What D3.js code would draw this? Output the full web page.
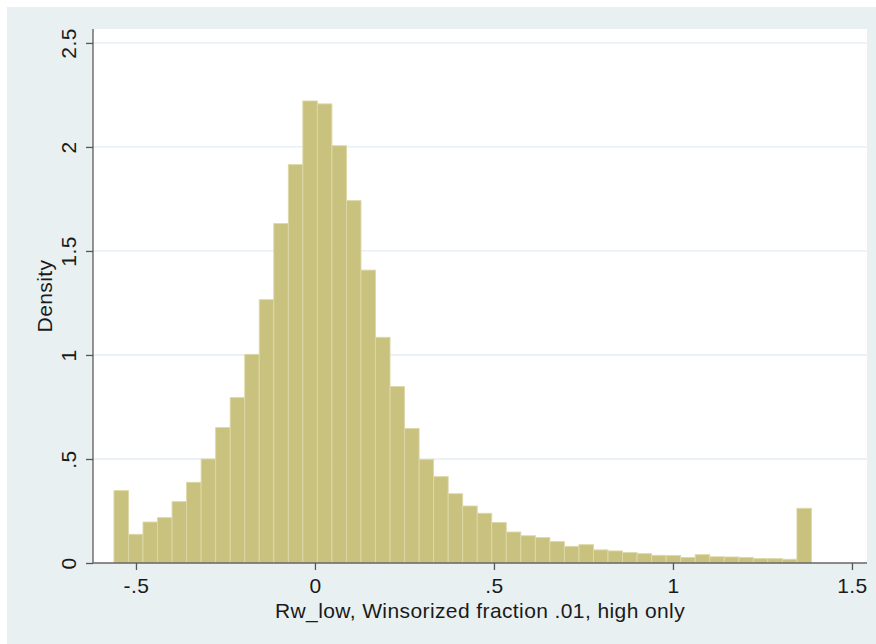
<!DOCTYPE html>
<html>
<head>
<meta charset="utf-8">
<script src="https://cdn.jsdelivr.net/npm/d3@7"></script>
<style>
  html, body { margin: 0; padding: 0; background: #ffffff; }
  svg { display: block; font-family: "Liberation Sans", Arial, Helvetica, sans-serif; }
</style>
</head>
<body>
<svg id="chart" width="876" height="644"></svg>
<script>
// ---- data ----
const binStart = -0.5615;   // lower edge of first bin
const binWidth = 0.04059;   // bin width
const densities = [
  0.348, 0.138, 0.197, 0.218, 0.295, 0.388, 0.500, 0.651, 0.795, 1.003,
  1.266, 1.632, 1.915, 2.221, 2.207, 2.006, 1.742, 1.408, 1.085, 0.848,
  0.647, 0.498, 0.415, 0.333, 0.274, 0.239, 0.195, 0.149, 0.131, 0.122,
  0.103, 0.080, 0.088, 0.063, 0.058, 0.050, 0.045, 0.037, 0.036, 0.027,
  0.040, 0.030, 0.029, 0.027, 0.021, 0.021, 0.018, 0.263
];
const xTicks = [-0.5, 0, 0.5, 1, 1.5];
const xTickLabels = ["-.5", "0", ".5", "1", "1.5"];
const yTicks = [0, 0.5, 1, 1.5, 2, 2.5];
const yTickLabels = ["0", ".5", "1", "1.5", "2", "2.5"];
const xTitle = "Rw_low, Winsorized fraction .01, high only";
const yTitle = "Density";

// ---- layout ----
const W = 876, H = 644;
const plot = { left: 93, right: 867, top: 29, bottom: 563 };
const FS = 21, LS = 0.4;

const svg = d3.select("#chart");

// outer graph region
svg.append("rect").attr("x", 7).attr("y", 7).attr("width", W - 7).attr("height", H - 7)
  .attr("fill", "#e9f0f2");
// plot region
svg.append("rect").attr("x", plot.left).attr("y", plot.top)
  .attr("width", plot.right - plot.left).attr("height", plot.bottom - plot.top)
  .attr("fill", "#ffffff");

const x = d3.scaleLinear().domain([-0.620, 1.542]).range([plot.left, plot.right]);
const y = d3.scaleLinear().domain([0, 2.567]).range([plot.bottom, plot.top]);

// gridlines
svg.append("g").selectAll("line").data(yTicks.filter(d => d > 0)).join("line")
  .attr("x1", plot.left).attr("x2", plot.right)
  .attr("y1", d => y(d)).attr("y2", d => y(d))
  .attr("stroke", "#e5edf0").attr("stroke-width", 1.3);

// bars
const bins = densities.map((d, i) => ({ x0: binStart + i * binWidth, x1: binStart + (i + 1) * binWidth, v: d }));
svg.append("g").selectAll("rect").data(bins).join("rect")
  .attr("x", d => x(d.x0))
  .attr("width", d => x(d.x1) - x(d.x0))
  .attr("y", d => y(d.v))
  .attr("height", d => y(0) - y(d.v))
  .attr("fill", "#c9c27f")
  .attr("stroke", "#ddd8a8")
  .attr("stroke-width", 0.9);

// x axis
const xAxis = d3.axisBottom(x).tickValues(xTicks)
  .tickFormat((d, i) => xTickLabels[i]).tickSize(7).tickSizeOuter(0);
const gx = svg.append("g").attr("transform", `translate(0,${plot.bottom})`).call(xAxis);
gx.select(".domain").attr("d", `M${plot.left},0H${plot.right}`).attr("stroke", "#666").attr("stroke-width", 1.4);
gx.selectAll(".tick line").attr("stroke", "#555").attr("stroke-width", 1.3);
gx.selectAll(".tick text").attr("font-size", FS).attr("fill", "#1a1a1a")
  .attr("letter-spacing", LS)
  .attr("font-family", "Liberation Sans, Arial, sans-serif")
  .attr("y", 30).attr("dy", null);

// y axis
const yAxis = d3.axisLeft(y).tickValues(yTicks)
  .tickFormat((d, i) => yTickLabels[i]).tickSize(7).tickSizeOuter(0);
const gy = svg.append("g").attr("transform", `translate(${plot.left},0)`).call(yAxis);
gy.select(".domain").attr("d", `M0,${plot.top}V${plot.bottom}`).attr("stroke", "#666").attr("stroke-width", 1.4);
gy.selectAll(".tick line").attr("stroke", "#555").attr("stroke-width", 1.3);
gy.selectAll(".tick text")
  .attr("font-size", FS).attr("fill", "#1a1a1a")
  .attr("letter-spacing", LS)
  .attr("font-family", "Liberation Sans, Arial, sans-serif")
  .attr("x", null).attr("dy", null)
  .attr("text-anchor", "middle")
  .attr("transform", "translate(-17,0) rotate(-90)");

// axis titles
svg.append("text")
  .attr("x", (plot.left + plot.right) / 2).attr("y", 618)
  .attr("text-anchor", "middle").attr("font-size", FS).attr("letter-spacing", LS).attr("fill", "#1a1a1a")
  .text(xTitle);
svg.append("text")
  .attr("transform", `translate(52,${(plot.top + plot.bottom) / 2}) rotate(-90)`)
  .attr("text-anchor", "middle").attr("font-size", FS).attr("letter-spacing", LS).attr("fill", "#1a1a1a")
  .text(yTitle);
</script>
</body>
</html>
